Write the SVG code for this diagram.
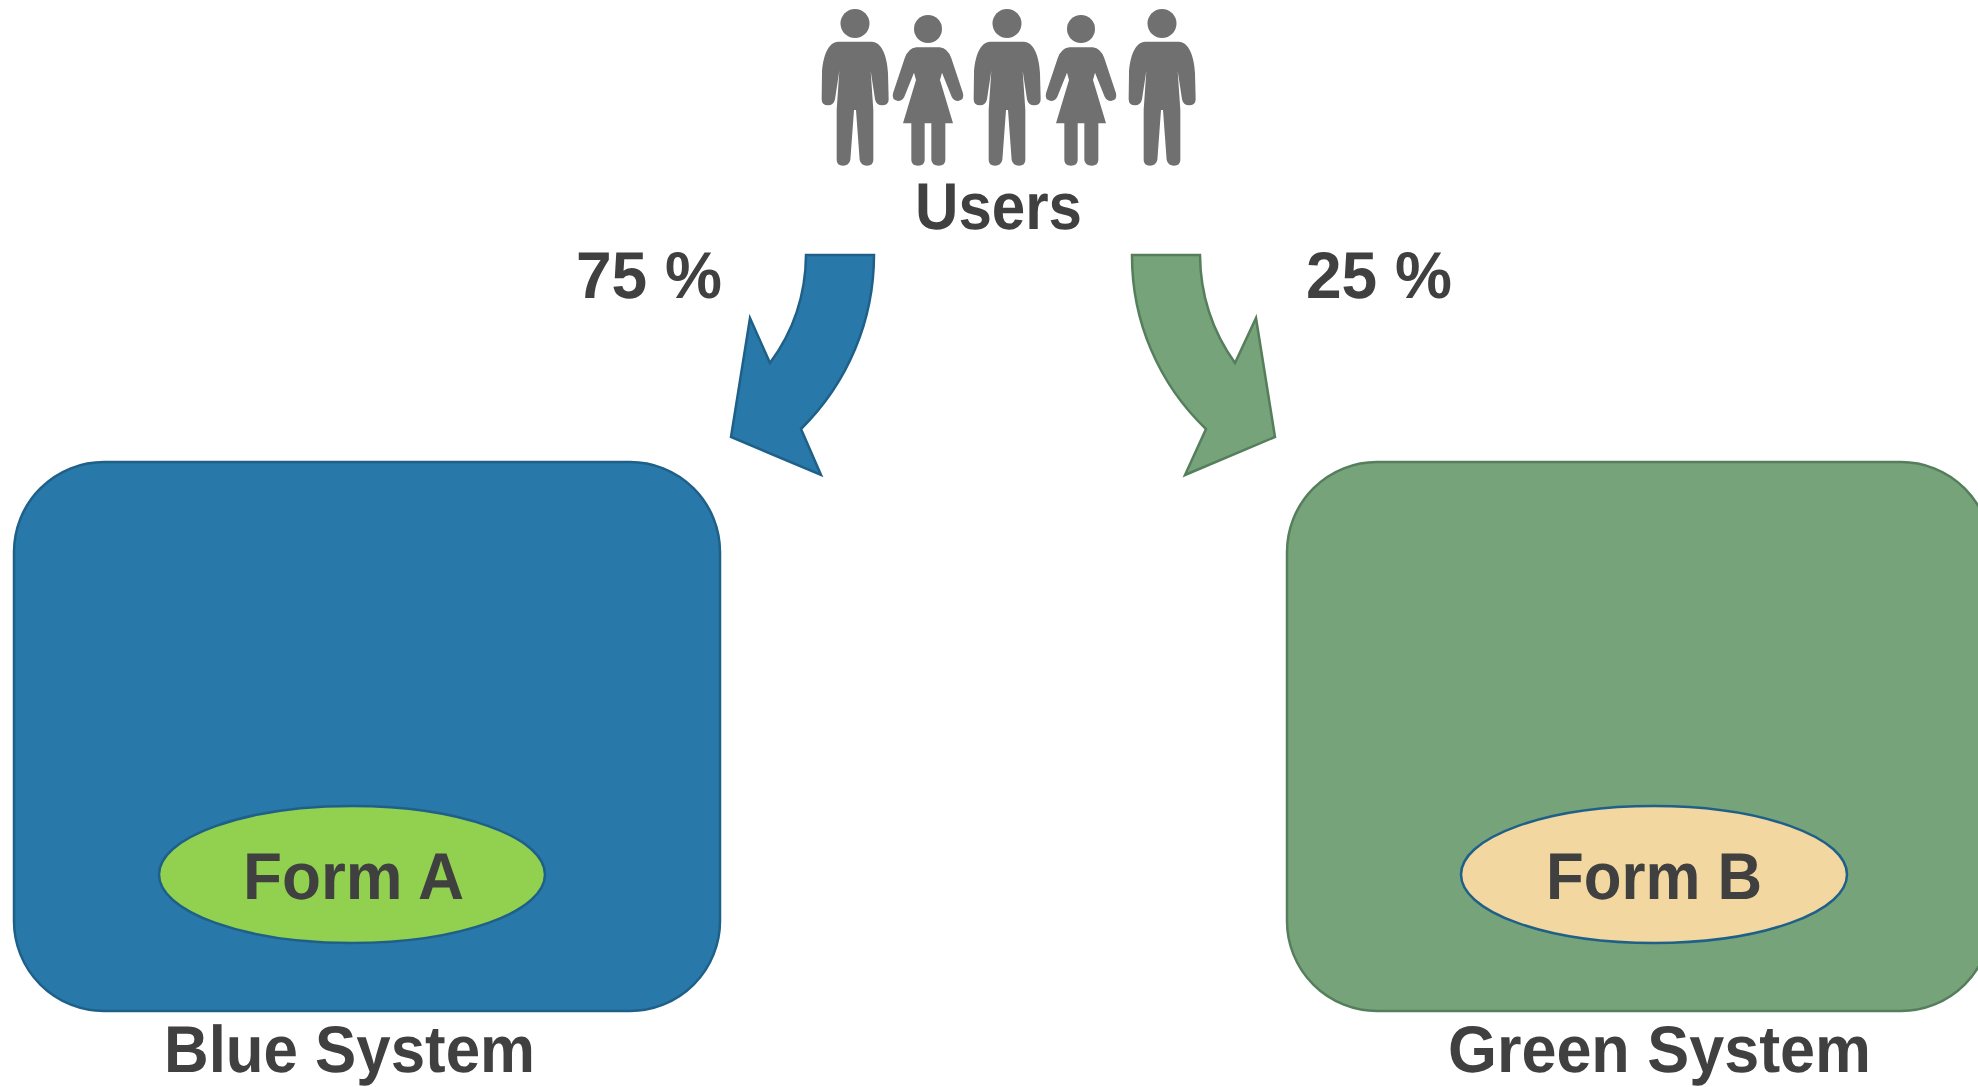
<svg xmlns="http://www.w3.org/2000/svg" width="1978" height="1087" viewBox="0 0 1978 1087">
<style>
text{font-family:"Liberation Sans","Open Sans",sans-serif;font-weight:700;fill:#404040;font-size:66px;text-rendering:geometricPrecision}
.blue{fill:#2878aa;stroke:#1f6088;stroke-width:2.5}
.green{fill:#76a379;stroke:#557e5c;stroke-width:2.5}
.p{fill:#6f6f6f}
</style>
<defs>
<filter id="soft" x="-5%" y="-5%" width="110%" height="110%"><feGaussianBlur stdDeviation="0.7"/></filter>
<g id="man" class="p"><circle cx="0" cy="23.5" r="14.5"/><path transform="scale(.3333)" d="M-50,125H50C80,125 97,170 99,220L101,298Q101,316 81,316Q64,316 60,298L47,212L55,330V480Q55,497 36,497Q18,497 14,480L3,330H-3L-14,480Q-18,497 -36,497Q-55,497 -55,480V330L-47,212L-60,298Q-64,316 -81,316Q-100,316 -100,298L-99,220C-97,170 -80,125 -50,125Z"/></g>
<g id="woman" class="p"><circle cx="0" cy="29" r="14"/><path transform="scale(.3333)" d="M-35,142H35Q60,145 70,175L105,280Q110,300 90,303Q78,303 71,290L42,218L36,240L75,370H52V480Q52,497 32,497Q12,497 10,480V370H-10V480Q-10,497 -30,497Q-50,497 -50,480V370H-75L-36,240L-42,218L-71,290Q-78,303 -90,303Q-110,300 -105,280L-70,175Q-60,145 -35,142Z"/></g>
</defs>
<g id="users">
<g filter="url(#soft)"><use href="#man" x="855"/><use href="#woman" x="928"/><use href="#man" x="1007"/><use href="#woman" x="1081"/><use href="#man" x="1162"/></g>
<text x="915" y="229" textLength="167" lengthAdjust="spacingAndGlyphs">Users</text>
</g>
<g id="connectors">
<path class="blue" d="M806,255H874A244,244 0 0 1 801,429L821,475L731,437L750,318L770,363A184,184 0 0 0 806,255Z"/>
<path class="green" d="M1132,255H1200A188.500,188.500 0 0 0 1235,363L1256,318L1275,437L1185,475L1206,429A239,239 0 0 1 1132,255Z"/>
</g>
<text x="576" y="298" textLength="146" lengthAdjust="spacingAndGlyphs">75 %</text>
<text x="1306" y="298" textLength="146" lengthAdjust="spacingAndGlyphs">25 %</text>
<g id="blue-system">
<rect class="blue" x="14" y="462" width="706" height="549" rx="90"/>
<text x="164" y="1072" textLength="371" lengthAdjust="spacingAndGlyphs">Blue System</text>
</g>
<g id="green-system">
<rect class="green" x="1287" y="462" width="704" height="549" rx="90"/>
<text x="1448" y="1072" textLength="423" lengthAdjust="spacingAndGlyphs">Green System</text>
</g>
<g id="form-a">
<ellipse cx="352" cy="874.500" rx="193" ry="68.500" fill="#92d050" stroke="#1f6088" stroke-width="2.5"/>
<text x="243" y="899" textLength="221" lengthAdjust="spacingAndGlyphs">Form A</text>
</g>
<g id="form-b">
<ellipse cx="1654" cy="874.500" rx="193" ry="68.500" fill="#f2d7a0" stroke="#1f6088" stroke-width="2.5"/>
<text x="1546" y="899" textLength="216" lengthAdjust="spacingAndGlyphs">Form B</text>
</g>
</svg>
